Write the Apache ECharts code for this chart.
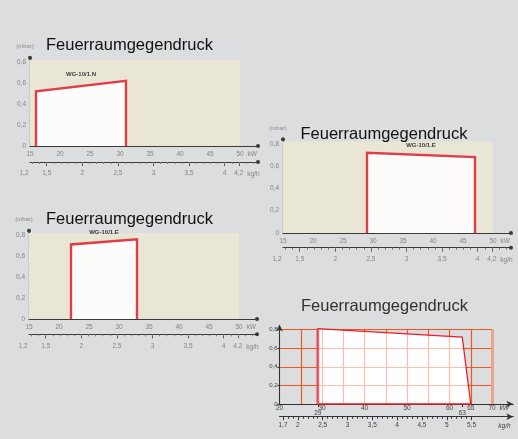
<!DOCTYPE html>
<html>
<head>
<meta charset="utf-8">
<script src="https://cdn.jsdelivr.net/npm/echarts@6/dist/echarts.min.js"></script>
<style>
html,body{margin:0;padding:0;background:#dcdddf;}
#c{width:518px;height:439px;}
</style>
</head>
<body>
<div id="c"></div>
<script>
// ---------- data ----------
const titleText = 'Feuerraumgegendruck';
const kwTicks = [15, 20, 25, 30, 35, 40, 45, 50];
const mbarTicks = [0, 0.2, 0.4, 0.6, 0.8];
const kghTicks = [1.5, 2, 2.5, 3, 3.5, 4, 4.2];
const kghFirstLabel = '1,2';

// chart 1 (top left)
const kw1 = [16, 16, 31, 31];
const mbar1 = [0, 0.52, 0.62, 0];
const model1 = 'WG-10/1.N';
// chart 2 (middle right)
const kw2 = [29, 29, 47, 47];
const mbar2 = [0, 0.72, 0.68, 0];
const model2 = 'WG-10/1.E';
// chart 3 (middle left)
const kw3 = [22, 22, 33, 33];
const mbar3 = [0, 0.71, 0.76, 0];
const model3 = 'WG-10/1.E';
// chart 4 (bottom right)
const kw4Labels = [20, 30, 40, 50, 60, 65, 70];
const kw4Marks = [29, 63];
const kgh4Ticks = [1.7, 2, 2.5, 3, 3.5, 4, 4.5, 5, 5.5];
const kgh4Range = [1.63, 6.34];
const kw4 = [29, 29, 63, 65];
const mbar4 = [0, 0.81, 0.72, 0];

const kwPerKgh = 11.86;

// ---------- helpers ----------
const FONT = 'Liberation Sans';
function fmt(v) { return String(+(+v).toFixed(2)).replace('.', ','); }
function steps(a, b, st) { const out = []; for (let v = a; v <= b + 1e-9; v += st) out.push(+v.toFixed(2)); return out; }

const grids = [], xAxes = [], yAxes = [], series = [], titles = [];

function addTitle(left, top, color) {
  titles.push({ text: titleText, left: left, top: top, padding: 0,
    textStyle: { fontFamily: FONT, fontSize: 16.5, fontWeight: 'normal', color: color } });
}

function polyRender(name, opts) {
  return function (params, api) {
    if (params.dataIndex !== 0) return null;
    const n = params.dataInsideLength;
    const pts = [];
    for (let i = 0; i < n; i++) pts.push(api.coord([api.value(0, i), api.value(1, i)]));
    const children = [];
    if (opts.fill) children.push({ type: 'polygon', shape: { points: pts }, style: { fill: opts.fill } });
    if (opts.stroke) {
      if (opts.closed) children.push({ type: 'polygon', shape: { points: pts }, style: { fill: null, stroke: opts.stroke, lineWidth: opts.lw } });
      else children.push({ type: 'polyline', shape: { points: pts }, style: { fill: null, stroke: opts.stroke, lineWidth: opts.lw } });
    }
    if (opts.leftEdge) children.push({ type: 'line', shape: { x1: pts[0][0], y1: pts[0][1], x2: pts[1][0], y2: pts[1][1] }, style: { stroke: opts.leftEdge, lineWidth: 3 } });
    if (name) {
      const mx = (pts[1][0] + pts[2][0]) / 2, my = Math.min(pts[1][1], pts[2][1]);
      children.push({ type: 'text', style: { text: name, x: mx, y: my - 4, align: 'center', verticalAlign: 'bottom',
        fontSize: 6, fontWeight: 'bold', fontFamily: FONT, fill: '#3c3c3c' } });
    }
    return { type: 'group', children: children };
  };
}

const axisGray = '#3a3a3a', labGray = '#858585';

function addSmallChart(g, kw, mbar, model) {
  const gi = grids.length;
  grids.push({ left: g.left, top: g.top, width: g.width, height: g.height });
  const xi = xAxes.length, yi = yAxes.length;
  const kwMin = 15, kwMax = 53;
  const sMin = kwMin / kwPerKgh, sMax = kwMax / kwPerKgh;
  // primary kW axis
  xAxes.push({ type: 'value', gridIndex: gi, position: 'bottom', min: kwMin, max: kwMax,
    axisLine: { show: true, onZero: false, lineStyle: { color: axisGray, width: 1.2 }, symbol: ['none', 'circle'], symbolSize: [4, 4] },
    axisTick: { show: false }, splitLine: { show: false },
    axisLabel: { customValues: kwTicks, formatter: fmt, fontSize: 6.5, color: labGray, margin: 5, fontFamily: FONT },
    name: 'kW', nameLocation: 'end', nameGap: -15,
    nameTextStyle: { fontSize: 6.5, color: labGray, fontFamily: FONT, verticalAlign: 'top', padding: [5, 0, 0, 0] } });
  // secondary kg/h axis
  xAxes.push({ type: 'value', gridIndex: gi, position: 'bottom', offset: g.off, min: sMin, max: sMax,
    axisLine: { show: true, onZero: false, lineStyle: { color: axisGray, width: 1 }, symbol: ['none', 'circle'], symbolSize: [4, 4] },
    axisTick: { show: true, customValues: kghTicks, length: 4, lineStyle: { color: '#555' } },
    splitLine: { show: false },
    axisLabel: { customValues: [sMin].concat(kghTicks), margin: 8, fontSize: 6.5, color: labGray, fontFamily: FONT,
      formatter: function (v) { return Math.abs(v - sMin) < 1e-6 ? '{l|' + kghFirstLabel + '}' : fmt(v); },
      rich: { l: { padding: [0, 12, 0, 0], fontSize: 6.5, color: labGray, fontFamily: FONT } } },
    name: 'kg/h', nameLocation: 'end', nameGap: -16,
    nameTextStyle: { fontSize: 6.5, color: labGray, fontFamily: FONT, verticalAlign: 'top', padding: [9, 0, 0, 0] } });
  // minor ticks
  xAxes.push({ type: 'value', gridIndex: gi, position: 'bottom', offset: g.off, min: sMin, max: sMax,
    axisLine: { show: false, onZero: false }, splitLine: { show: false }, axisLabel: { show: false },
    axisTick: { show: true, customValues: steps(1.3, 4.4, 0.1), length: 2, lineStyle: { color: '#777' } } });
  yAxes.push({ type: 'value', gridIndex: gi, min: 0, max: 0.84,
    axisLine: { show: true, onZero: false, lineStyle: { color: axisGray, width: 1.2 }, symbol: ['none', 'circle'], symbolSize: [4, 4] },
    axisTick: { show: false }, splitLine: { show: false },
    axisLabel: { customValues: mbarTicks, formatter: fmt, fontSize: 6.5, color: labGray, margin: 4, fontFamily: FONT },
    name: '(mbar)', nameLocation: 'end', nameGap: 8,
    nameTextStyle: { fontSize: 6, color: '#8a8a8a', fontFamily: FONT, padding: [0, 10, 0, 0] } });
  // beige plot background
  series.push({ type: 'line', xAxisIndex: xi, yAxisIndex: yi, data: [], silent: true, z: 1,
    markArea: { silent: true, itemStyle: { color: '#eae6d6' }, data: [[{ xAxis: 15, yAxis: 0 }, { xAxis: 50, yAxis: 0.82 }]] } });
  // working field
  series.push({ type: 'custom', xAxisIndex: xi, yAxisIndex: yi, z: 3, silent: true,
    data: kw.map(function (x, i) { return [x, mbar[i]]; }),
    renderItem: polyRender(model, { fill: '#fefcfb', stroke: '#df3d48', lw: 2.4, closed: false }) });
}

addTitle(46, 37, '#111');
addSmallChart({ left: 30, top: 57.8, width: 228, height: 88.2, off: 16 }, kw1, mbar1, model1);
addTitle(300.5, 126, '#111');
addSmallChart({ left: 283, top: 139.3, width: 228, height: 93.7, off: 14.7 }, kw2, mbar2, model2);
addTitle(46, 211, '#111');
addSmallChart({ left: 29, top: 230.8, width: 228, height: 88.2, off: 15.3 }, kw3, mbar3, model3);

// ---------- chart 4 ----------
addTitle(301, 297.5, '#333');
const orange = '#f0571f';
// grid with orange lines (20..70 kW)
const g4a = grids.length;
grids.push({ left: 279.5, top: 329.6, width: 212.5, height: 74.4 });
const x4a = xAxes.length, y4a = yAxes.length;
xAxes.push({ type: 'value', gridIndex: g4a, min: 20, max: 70, interval: 5, z: 2,
  axisLine: { show: false, onZero: false }, axisTick: { show: false }, axisLabel: { show: false },
  splitLine: { show: true, lineStyle: { color: orange, width: 1.2 } } });
yAxes.push({ type: 'value', gridIndex: g4a, min: 0, max: 0.8, interval: 0.2, z: 2,
  axisLine: { show: false, onZero: false }, axisTick: { show: false }, axisLabel: { show: false },
  splitLine: { show: true, lineStyle: { color: orange, width: 1.2 } } });
// axes grid (20..75 kW)
const g4b = grids.length;
grids.push({ left: 279.5, top: 329.6, width: 233.8, height: 74.4 });
const dark = '#333', lab4 = '#444';
xAxes.push({ type: 'value', gridIndex: g4b, position: 'bottom', min: 20, max: 75, z: 3,
  axisLine: { show: true, onZero: false, lineStyle: { color: dark, width: 1 }, symbol: ['none', 'arrow'], symbolSize: [5, 7] },
  axisTick: { show: false }, splitLine: { show: false },
  axisLabel: { customValues: kw4Labels, fontSize: 6.5, color: lab4, margin: 1, fontFamily: FONT },
  name: 'kW', nameLocation: 'end', nameGap: -15,
  nameTextStyle: { fontSize: 6.5, color: lab4, fontStyle: 'italic', fontFamily: FONT, verticalAlign: 'top', padding: [1, 0, 0, 0] } });
xAxes.push({ type: 'value', gridIndex: g4b, position: 'bottom', min: 20, max: 75, z: 3,
  axisLine: { show: false, onZero: false }, splitLine: { show: false },
  axisTick: { show: true, customValues: kw4Marks, length: 3, lineStyle: { color: dark } },
  axisLabel: { customValues: kw4Marks, fontSize: 6.5, color: lab4, margin: 5.5, fontFamily: FONT } });
xAxes.push({ type: 'value', gridIndex: g4b, position: 'bottom', offset: 12.7, min: kgh4Range[0], max: kgh4Range[1], z: 3,
  axisLine: { show: true, onZero: false, lineStyle: { color: dark, width: 1 }, symbol: ['none', 'arrow'], symbolSize: [5, 7] },
  axisTick: { show: true, customValues: kgh4Ticks, length: 3.5, lineStyle: { color: dark } },
  splitLine: { show: false },
  axisLabel: { customValues: kgh4Ticks, formatter: fmt, fontSize: 6.5, color: lab4, margin: 5, fontFamily: FONT },
  name: 'kg/h', nameLocation: 'end', nameGap: -15,
  nameTextStyle: { fontSize: 6.5, color: lab4, fontStyle: 'italic', fontFamily: FONT, verticalAlign: 'top', padding: [6, 0, 0, 0] } });
xAxes.push({ type: 'value', gridIndex: g4b, position: 'bottom', offset: 12.7, min: kgh4Range[0], max: kgh4Range[1], z: 3,
  axisLine: { show: false, onZero: false }, splitLine: { show: false }, axisLabel: { show: false },
  axisTick: { show: true, customValues: steps(1.7, 5.5, 0.1), length: 2, lineStyle: { color: dark } } });
yAxes.push({ type: 'value', gridIndex: g4b, min: 0, max: 0.8, interval: 0.2, z: 3,
  axisLine: { show: true, onZero: false, lineStyle: { color: dark, width: 1 }, symbol: ['none', 'arrow'], symbolSize: [5, 7], symbolOffset: [0, 5] },
  axisTick: { show: true, length: 2, lineStyle: { color: dark } }, splitLine: { show: false },
  axisLabel: { formatter: fmt, fontSize: 6, color: lab4, margin: 2, fontFamily: FONT } });

const data4 = kw4.map(function (x, i) { return [x, mbar4[i]]; });
series.push({ type: 'custom', xAxisIndex: x4a, yAxisIndex: y4a, z: 1, silent: true, data: data4,
  renderItem: polyRender(null, { fill: '#ffffff' }) });
series.push({ type: 'custom', xAxisIndex: x4a, yAxisIndex: y4a, z: 4, silent: true, data: data4,
  renderItem: polyRender(null, { fill: 'rgba(255,255,255,0.62)', stroke: '#e61e2c', lw: 1.3, closed: true, leftEdge: 'rgba(238,80,100,0.75)' }),
  markLine: { silent: true, symbol: 'none', label: { show: false }, animation: false,
    lineStyle: { color: '#eca38a', width: 3, type: 'solid' }, data: [{ xAxis: 70 }] } });

const chart = echarts.init(document.getElementById('c'), null, { renderer: 'canvas' });
chart.setOption({
  backgroundColor: '#dcdddf',
  animation: false,
  textStyle: { fontFamily: FONT },
  title: titles,
  grid: grids,
  xAxis: xAxes,
  yAxis: yAxes,
  series: series
});
</script>
</body>
</html>
